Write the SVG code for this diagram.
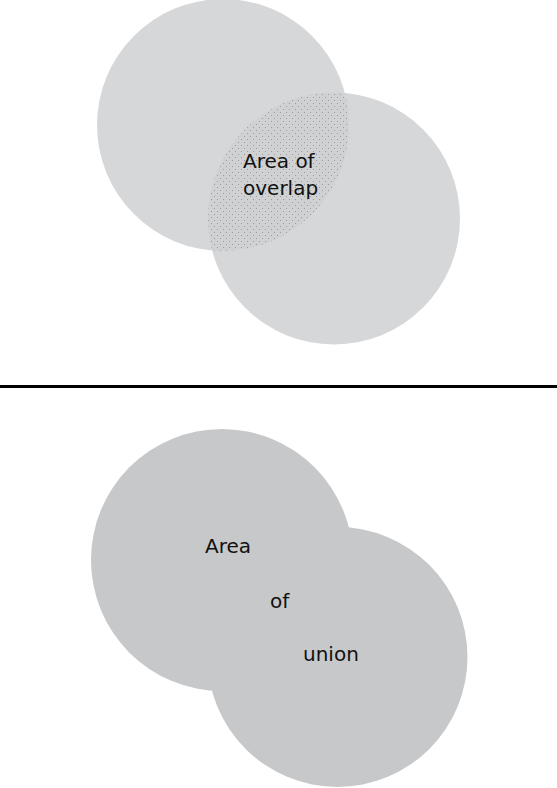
<svg xmlns="http://www.w3.org/2000/svg" width="557" height="788" viewBox="0 0 557 788">
<style>
.top{fill:#d6d7d9}
.bot{fill:#c7c8ca}
.lbl{font-family:"DejaVu Sans","Liberation Sans",sans-serif;font-size:20px;fill:#111}
</style>
<defs>
<clipPath id="clipA"><circle cx="223" cy="125" r="126"/></clipPath>
<pattern id="dots" x="0" y="0" width="6" height="6" patternUnits="userSpaceOnUse">
<rect width="6" height="6" fill="#d0d1d3"/>
<rect x="1" y="1" width="1" height="1" fill="#9a9b9d"/>
<rect x="4" y="4" width="1" height="1" fill="#9a9b9d"/>
</pattern>
</defs>
<rect width="557" height="788" fill="#fff"/>
<g id="overlap-diagram">
<g id="circleA"><circle class="top" cx="223" cy="125" r="126"/></g>
<g id="circleB"><circle class="top" cx="334" cy="218.5" r="126"/></g>
<g id="overlap"><circle cx="334" cy="218.5" r="126" fill="url(#dots)" clip-path="url(#clipA)"/>
<text class="lbl" x="243" y="168">Area of</text>
<text class="lbl" x="243" y="195">overlap</text></g>
</g>
<g id="divider"><line x1="0" y1="386.5" x2="557" y2="386.5" stroke="#000" stroke-width="3"/></g>
<g id="union-diagram">
<g id="circleC"><circle class="bot" cx="222" cy="560" r="131"/></g>
<g id="circleD"><circle class="bot" cx="337.5" cy="657" r="130"/></g>
<g id="union-label">
<text class="lbl" x="205" y="553">Area</text>
<text class="lbl" x="270" y="608">of</text>
<text class="lbl" x="303" y="661">union</text>
</g>
</g>
</svg>
